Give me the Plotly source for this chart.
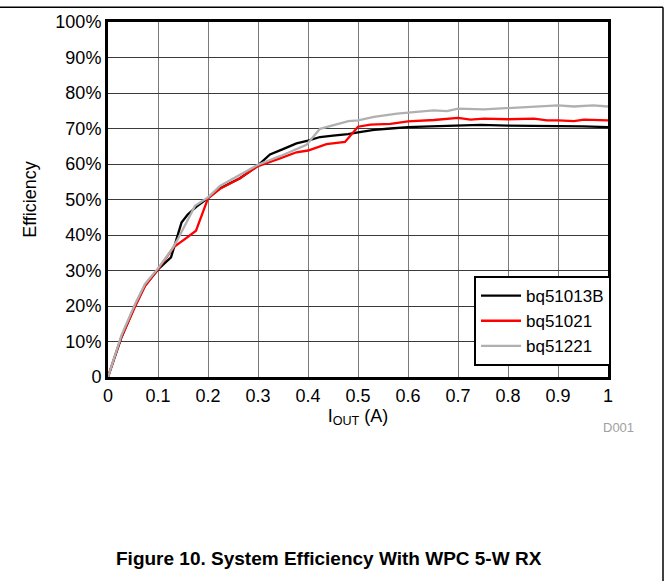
import plotly.graph_objects as go

# Data (I_OUT in A, efficiency in %)
bq51013b_x = [0, 0.027, 0.054, 0.074, 0.1, 0.115, 0.126, 0.147, 0.159, 0.177, 0.2, 0.224, 0.264, 0.3, 0.324, 0.35, 0.377, 0.4, 0.424, 0.45, 0.48, 0.5, 0.532, 0.565, 0.6, 0.645, 0.7, 0.745, 0.8, 0.85, 0.9, 0.95, 1.0]
bq51013b_y = [0, 11.2, 20.1, 25.8, 30.3, 32.2, 33.7, 43.5, 45.7, 48.0, 50.4, 53.2, 56.0, 59.6, 62.7, 64.2, 65.8, 66.6, 67.6, 68.0, 68.4, 68.9, 69.6, 70.0, 70.4, 70.6, 70.9, 71.0, 70.8, 70.8, 70.7, 70.6, 70.4]

bq51021_x = [0, 0.025, 0.054, 0.074, 0.1, 0.131, 0.155, 0.176, 0.2, 0.224, 0.264, 0.3, 0.344, 0.377, 0.4, 0.437, 0.474, 0.5, 0.525, 0.565, 0.6, 0.652, 0.7, 0.725, 0.752, 0.8, 0.852, 0.878, 0.9, 0.932, 0.952, 1.0]
bq51021_y = [0, 10.6, 19.8, 25.6, 30.3, 36.5, 39.0, 41.2, 50.3, 53.0, 56.0, 59.4, 61.6, 63.3, 63.8, 65.6, 66.2, 70.5, 71.1, 71.3, 72.0, 72.4, 73.0, 72.5, 72.8, 72.6, 72.8, 72.3, 72.3, 72.1, 72.5, 72.3]

bq51221_x = [0, 0.027, 0.054, 0.074, 0.1, 0.128, 0.138, 0.174, 0.2, 0.224, 0.264, 0.3, 0.344, 0.397, 0.424, 0.451, 0.481, 0.5, 0.532, 0.578, 0.624, 0.651, 0.678, 0.7, 0.752, 0.8, 0.852, 0.878, 0.9, 0.932, 0.97, 1.0]
bq51221_y = [0, 11.8, 20.5, 26.2, 30.6, 36.0, 38.4, 48.2, 50.6, 53.8, 57.0, 59.8, 62.2, 65.4, 69.9, 71.0, 72.1, 72.3, 73.3, 74.2, 74.9, 75.1, 74.9, 75.6, 75.4, 75.8, 76.1, 76.5, 76.5, 76.2, 76.5, 76.2]

x_ticks = [0, 0.1, 0.2, 0.3, 0.4, 0.5, 0.6, 0.7, 0.8, 0.9, 1]
x_labels = ["0", "0.1", "0.2", "0.3", "0.4", "0.5", "0.6", "0.7", "0.8", "0.9", "1"]
y_ticks = [0, 10, 20, 30, 40, 50, 60, 70, 80, 90, 100]
y_labels = ["0", "10%", "20%", "30%", "40%", "50%", "60%", "70%", "80%", "90%", "100%"]

series = [
    ("bq51013B", bq51013b_x, bq51013b_y, "#000000"),
    ("bq51021", bq51021_x, bq51021_y, "#ff0000"),
    ("bq51221", bq51221_x, bq51221_y, "#b0b0b0"),
]

W, H = 669, 581
L, R, T, B = 108, 61, 19, 204
plot_w = W - L - R
plot_h = H - T - B

def px(xp):
    return (xp - L) / plot_w

def py(yp):
    return (H - B - yp) / plot_h

fig = go.Figure()
for name, xs, ys, col in series:
    fig.add_trace(go.Scatter(x=xs, y=ys, mode="lines", name=name,
                             line=dict(color=col, width=2.3)))

FAM = "Liberation Sans, Arial, sans-serif"
font = dict(family=FAM, size=18, color="#000000")

fig.update_layout(
    width=W, height=H,
    margin=dict(l=L, r=R, t=T, b=B),
    paper_bgcolor="white", plot_bgcolor="white",
    font=font,
    showlegend=True,
    legend=dict(x=px(611), y=py(366), xanchor="right", yanchor="bottom",
                bgcolor="white", bordercolor="#000000", borderwidth=2,
                font=dict(family=FAM, size=17),
                tracegroupgap=0, itemwidth=40),
    xaxis=dict(range=[0, 1], tickvals=x_ticks, ticktext=x_labels,
               showgrid=True, gridcolor="#7a7a7a", gridwidth=1.3,
               showline=True, linecolor="#000000", linewidth=3, mirror=True,
               ticks="", zeroline=False, tickfont=dict(size=18),
               title=dict(text="I<sub>OUT</sub> (A)", standoff=5,
                          font=dict(size=18))),
    yaxis=dict(range=[0, 100], tickvals=y_ticks, ticktext=y_labels,
               showgrid=True, gridcolor="#3a3a3a", gridwidth=1.1,
               showline=True, linecolor="#000000", linewidth=3, mirror=True,
               ticks="", zeroline=False, tickfont=dict(size=18),
               title=dict(text="Efficiency", standoff=15,
                          font=dict(size=18))),
    annotations=[
        dict(text="D001", x=px(636), y=py(428), xref="paper", yref="paper",
             showarrow=False, font=dict(family=FAM, size=13, color="#a0a0a0"),
             xanchor="right", yanchor="middle"),
        dict(text="<b>Figure 10. System Efficiency With WPC 5-W RX</b>",
             x=px(329), y=py(560), xref="paper", yref="paper", showarrow=False,
             font=dict(family=FAM, size=19, color="#000000"), xanchor="center",
             yanchor="middle"),
    ],
    shapes=[
        dict(type="line", xref="paper", yref="paper", layer="above",
             x0=px(-5), x1=px(663), y0=py(4), y1=py(4),
             line=dict(color="#000000", width=1.5)),
        dict(type="line", xref="paper", yref="paper", layer="above",
             x0=px(663), x1=px(663), y0=py(4), y1=py(590),
             line=dict(color="#000000", width=1.5)),
    ],
)

fig.write_html("out.html", config={"displayModeBar": False},
               post_script="document.body.style.margin='0';document.body.style.overflow='hidden';")
